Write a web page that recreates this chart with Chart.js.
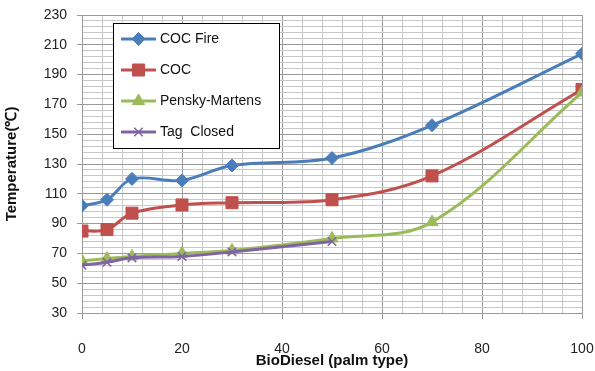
<!DOCTYPE html>
<html>
<head>
<meta charset="utf-8">
<style>
  html, body { margin: 0; padding: 0; background: #ffffff; }
  #wrap { width: 595px; height: 371px; }
</style>
<script src="https://cdn.jsdelivr.net/npm/chart.js@4/dist/chart.umd.min.js"></script>
</head>
<body>
<div id="wrap"><canvas id="c" width="595" height="371"></canvas></div>
<script>
// Biodiesel blend ratio (% palm biodiesel)
const blends = [0, 5, 10, 20, 30, 50, 70, 100];
const tagBlends = [0, 5, 10, 20, 30, 50];

// Measured temperatures (°C)
const cocFire = [102, 106, 120, 119, 129, 134, 156, 204];
const coc = [85, 86, 97, 102.5, 104, 106, 122, 180];
const penskyMartens = [65, 66.5, 68, 70, 72, 80, 91, 178];
const tagClosed = [62, 64, 67, 68, 71, 78];

const seriesNames = ['COC Fire', 'COC', 'Pensky-Martens', 'Tag  Closed'];

const xMajor = [0, 20, 40, 60, 80, 100];
const yMajor = [30, 50, 70, 90, 110, 130, 150, 170, 190, 210, 230];

const toPoints = (xs, ys) => ys.map((y, i) => ({ x: xs[i], y }));

const styles = [
  { color: '#4a7ebb', pointStyle: 'rectRot', radius: 6.5 },
  { color: '#c0504d', pointStyle: 'rect', radius: 8.5 },
  { color: '#9bbb59', pointStyle: 'triangle', radius: 7 },
  { color: '#8064a2', pointStyle: 'crossRot', radius: 6 }
];

const seriesData = [
  toPoints(blends, cocFire),
  toPoints(blends, coc),
  toPoints(blends, penskyMartens),
  toPoints(tagBlends, tagClosed)
];

const datasets = seriesData.map((d, i) => ({
  label: seriesNames[i],
  data: d,
  borderColor: styles[i].color,
  backgroundColor: styles[i].color,
  pointBorderColor: styles[i].color,
  pointBackgroundColor: styles[i].color,
  pointStyle: styles[i].pointStyle,
  pointRadius: styles[i].radius,
  pointBorderWidth: i === 3 ? 1.5 : 1,
  borderWidth: 3,
  tension: 0.35,
  order: 3 - i
}));

// Boxed legend with line + marker samples
const boxLegend = {
  id: 'boxLegend',
  afterDraw(chart) {
    const ctx = chart.ctx;
    const bx = 113, by = 23, bw = 166, bh = 125;
    ctx.save();
    ctx.fillStyle = '#ffffff';
    ctx.fillRect(bx, by, bw, bh);
    ctx.strokeStyle = '#000000';
    ctx.lineWidth = 1;
    ctx.strokeRect(bx + 0.5, by + 0.5, bw, bh);
    const rows = [39, 70, 101, 132];
    ctx.font = '14px "Liberation Sans", Arial, sans-serif';
    ctx.textBaseline = 'middle';
    chart.data.datasets.forEach((ds, i) => {
      const y = rows[i];
      ctx.strokeStyle = ds.borderColor;
      ctx.lineWidth = 3;
      ctx.beginPath();
      ctx.moveTo(121, y);
      ctx.lineTo(156, y);
      ctx.stroke();
      ctx.fillStyle = ds.pointBackgroundColor;
      ctx.strokeStyle = ds.pointBorderColor;
      ctx.lineWidth = ds.pointBorderWidth;
      Chart.helpers.drawPoint(ctx, { pointStyle: ds.pointStyle, radius: ds.pointRadius, rotation: 0, borderWidth: ds.pointBorderWidth }, 138.5, y);
      ctx.fillStyle = '#111111';
      ctx.fillText(ds.label, 160, y);
    });
    ctx.restore();
  }
};

const majorGrid = '#9a9a9a';
const minorGrid = '#c8c8c8';

new Chart(document.getElementById('c'), {
  type: 'line',
  data: { datasets },
  options: {
    responsive: false,
    animation: false,
    layout: { padding: { top: 15, right: 13, left: 0, bottom: 0 } },
    plugins: { legend: { display: false }, tooltip: { enabled: false } },
    scales: {
      x: {
        type: 'linear',
        min: 0, max: 100,
        afterFit(s) { s.height = 58; s.paddingLeft = 0; s.paddingRight = 0; },
        border: { color: majorGrid, width: 1 },
        grid: {
          color: c => (xMajor.includes(c.tick.value) ? majorGrid : minorGrid),
          tickColor: c => (xMajor.includes(c.tick.value) ? majorGrid : 'rgba(0,0,0,0)'),
          tickLength: 6,
          lineWidth: 1
        },
        ticks: {
          stepSize: 4,
          autoSkip: false,
          maxRotation: 0,
          padding: 22,
          color: '#222222',
          font: { family: '"Liberation Sans", Arial, sans-serif', size: 14 },
          callback: v => (xMajor.includes(v) ? String(v) : '')
        },
        title: {
          display: true,
          text: 'BioDiesel (palm type)',
          color: '#111111',
          font: { family: '"Liberation Sans", Arial, sans-serif', size: 15, weight: 'bold' },
          padding: { top: 0, bottom: 1 }
        }
      },
      y: {
        min: 30, max: 230,
        afterFit(s) { s.width = 82; s.paddingTop = 0; s.paddingBottom = 0; },
        border: { color: majorGrid, width: 1 },
        grid: {
          color: c => (yMajor.includes(c.tick.value) ? majorGrid : minorGrid),
          tickColor: c => (yMajor.includes(c.tick.value) ? majorGrid : 'rgba(0,0,0,0)'),
          tickLength: 5,
          lineWidth: 1
        },
        ticks: {
          stepSize: 4,
          autoSkip: false,
          padding: 10,
          color: '#222222',
          font: { family: '"Liberation Sans", Arial, sans-serif', size: 14 },
          callback: v => (yMajor.includes(v) ? String(v) : '')
        },
        title: {
          display: true,
          text: 'Temperature(℃)',
          color: '#111111',
          font: { family: '"Liberation Sans", Arial, sans-serif', size: 15, weight: 'bold' },
          padding: { top: 3, bottom: 0 }
        }
      }
    }
  },
  plugins: [boxLegend]
});
</script>
</body>
</html>
